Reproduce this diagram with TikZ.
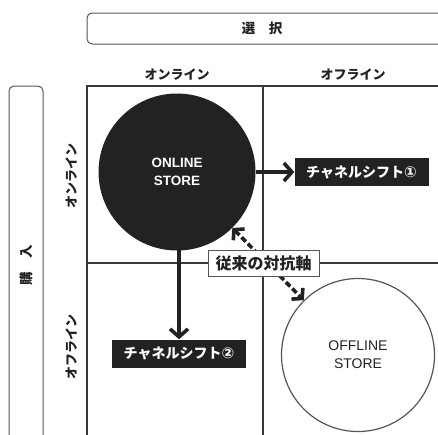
\documentclass[tikz,border=0pt]{standalone}
\usepackage{fontspec}
\setmainfont{Liberation Sans}
\newfontfamily\jp{Noto Sans CJK JP}
\newfontfamily\symfont{DejaVu Sans}
\usetikzlibrary{arrows.meta}
\definecolor{ink}{HTML}{222222}
\definecolor{rim}{HTML}{555555}
\begin{document}
\begin{tikzpicture}[x=1pt,y=-1pt,
  frame/.style={draw=rim, line width=1pt, rounded corners=5pt},
  gridline/.style={draw=ink!90, line width=1.4pt},
  jplabel/.style={font=\jp\bfseries\fontsize{13}{15}\selectfont, text=ink, inner sep=0pt},
  shiftbox/.style={fill=ink, text=white, font=\jp\bfseries\fontsize{14}{16}\selectfont, minimum width=134pt, minimum height=28pt, inner sep=0pt},
  bigarrow/.style={draw=ink, line width=3.6pt, -{Straight Barb[length=8pt,width=18pt]}},
  dasharrow/.style={draw=ink, line width=3.6pt, dash pattern=on 6pt off 3pt, {Straight Barb[length=7pt,width=16pt]}-{Straight Barb[length=7pt,width=16pt]}}
]
\useasboundingbox (0,0) rectangle (438,434);
\clip (0,0) rectangle (438,434);
% header frames
\draw[frame] (87,13) rectangle (460,44);
\node[jplabel, font=\jp\bfseries\fontsize{13.5}{15}\selectfont] (sel) at (262,28) {選\hspace{1em}択};
\draw[frame] (9,86) rectangle (43,460);
\node[jplabel, rotate=90, font=\jp\bfseries\fontsize{13.5}{15}\selectfont] (buy) at (26,265) {購\hspace{1em}入};
% column / row labels
\node[jplabel] (con) at (177,75) {オンライン};
\node[jplabel] (coff) at (353,75) {オフライン};
\node[jplabel, rotate=90] (ron) at (72,176) {オンライン};
\node[jplabel, rotate=90] (roff) at (72,347) {オフライン};
% grid
\draw[gridline] (460,86) -- (87,86) -- (87,460);
\draw[gridline] (263,86) -- (263,460);
\draw[gridline] (87,263) -- (460,263);
% stores
\node[circle, fill=ink, minimum size=157pt, inner sep=0pt, text=white, align=center,
      font=\bfseries\fontsize{13.5}{18}\selectfont] (on) at (177,172) {ONLINE\\STORE};
\node[circle, draw=rim, fill=white, line width=1.2pt, minimum size=153pt, inner sep=0pt, text=ink, align=center,
      font=\fontsize{14}{18}\selectfont] (off) at (358,355) {OFFLINE\\STORE};
% channel shift boxes
\node[shiftbox] (s1) at (361.5,172) {チャネルシフト{\symfont\fontsize{15}{16}\selectfont ①}};
\node[shiftbox] (s2) at (179,353.5) {チャネルシフト{\symfont\fontsize{15}{16}\selectfont ②}};
\draw[bigarrow] (on.east) -- (s1.west);
\draw[bigarrow] (179,250) -- (s2.north);
% traditional axis
\draw[dasharrow] (on) -- (off);
\node[draw=rim, fill=white, line width=0.8pt, minimum width=111pt, minimum height=26pt, inner sep=0pt,
      font=\jp\bfseries\fontsize{16}{18}\selectfont, text=ink] (axis) at (263.5,263) {従来の対抗軸};
\end{tikzpicture}
\end{document}
